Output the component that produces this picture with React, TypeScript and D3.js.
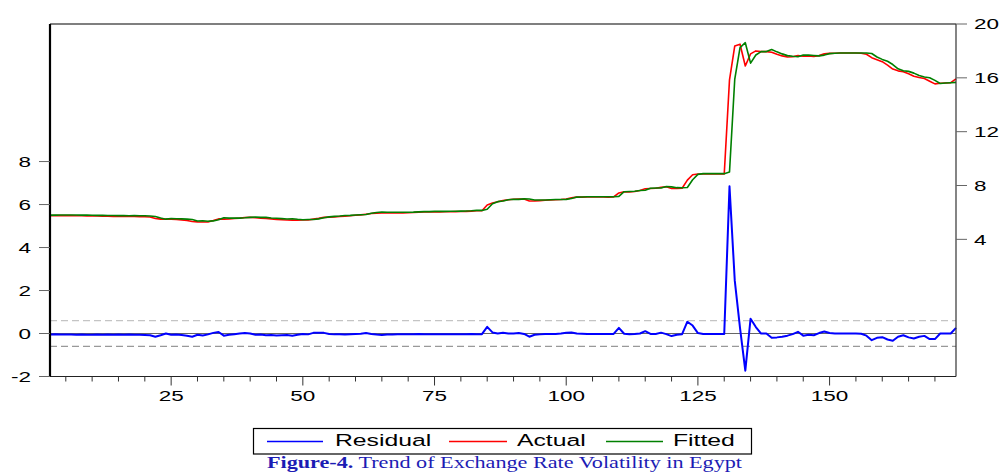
import * as d3 from 'd3'

// EViews style residual / actual / fitted plot, observations 2..174
const firstObs = 2

const actual = [
  5.75, 5.76, 5.76, 5.76, 5.76, 5.75, 5.75, 5.74, 5.73, 5.73,
  5.72, 5.72, 5.71, 5.71, 5.70, 5.70, 5.70, 5.69, 5.68, 5.66,
  5.55, 5.50, 5.50, 5.49, 5.48, 5.45, 5.40, 5.33, 5.30, 5.29,
  5.30, 5.40, 5.52, 5.50, 5.52, 5.55, 5.58, 5.62, 5.63, 5.60,
  5.58, 5.55, 5.52, 5.48, 5.46, 5.44, 5.43, 5.43, 5.44, 5.44,
  5.50, 5.56, 5.63, 5.65, 5.67, 5.70, 5.72, 5.75, 5.79, 5.82,
  5.87, 5.92, 5.95, 5.96, 5.96, 5.96, 5.97, 5.97, 5.98, 5.99,
  6.02, 6.03, 6.03, 6.04, 6.04, 6.05, 6.05, 6.06, 6.07, 6.08,
  6.10, 6.12, 6.12, 6.55, 6.70, 6.80, 6.88, 6.94, 6.98, 6.99,
  6.99, 6.85, 6.86, 6.88, 6.90, 6.92, 6.94, 6.96, 7.00, 7.08,
  7.14, 7.14, 7.15, 7.15, 7.15, 7.15, 7.14, 7.15, 7.45, 7.53,
  7.53, 7.55, 7.63, 7.76, 7.78, 7.80, 7.86, 7.90, 7.78, 7.78,
  7.80, 8.40, 8.80, 8.85, 8.86, 8.86, 8.86, 8.86, 8.86, 15.85,
  18.37, 18.50, 16.88, 17.78, 18.00, 17.95, 17.95, 17.90, 17.75, 17.63,
  17.55, 17.57, 17.65, 17.60, 17.63, 17.58, 17.65, 17.78, 17.82, 17.83,
  17.85, 17.85, 17.85, 17.85, 17.83, 17.75, 17.50, 17.35, 17.20, 16.95,
  16.65, 16.52, 16.45, 16.30, 16.12, 16.02, 15.95, 15.75, 15.55, 15.60,
  15.62, 15.64, 15.92,
]

const fitted = [
  5.80, 5.80, 5.81, 5.81, 5.81, 5.81, 5.80, 5.80, 5.79, 5.78,
  5.78, 5.77, 5.77, 5.76, 5.76, 5.75, 5.76, 5.75, 5.75, 5.74,
  5.70, 5.58, 5.50, 5.55, 5.53, 5.52, 5.50, 5.48, 5.36, 5.38,
  5.34, 5.37, 5.45, 5.60, 5.58, 5.58, 5.58, 5.60, 5.63, 5.66,
  5.63, 5.63, 5.59, 5.57, 5.54, 5.51, 5.53, 5.49, 5.46, 5.48,
  5.47, 5.52, 5.60, 5.67, 5.71, 5.73, 5.77, 5.78, 5.81, 5.83,
  5.85, 5.94, 6.00, 6.03, 6.01, 6.01, 6.01, 6.01, 6.01, 6.02,
  6.04, 6.06, 6.06, 6.08, 6.08, 6.08, 6.09, 6.09, 6.10, 6.11,
  6.12, 6.15, 6.15, 6.24, 6.65, 6.80, 6.85, 6.94, 6.98, 6.97,
  7.01, 7.00, 6.92, 6.92, 6.92, 6.94, 6.96, 6.96, 6.97, 7.03,
  7.14, 7.15, 7.17, 7.17, 7.17, 7.17, 7.16, 7.17, 7.19, 7.54,
  7.56, 7.57, 7.63, 7.65, 7.80, 7.82, 7.82, 7.93, 7.90, 7.84,
  7.83, 7.85, 8.43, 8.83, 8.88, 8.88, 8.88, 8.88, 8.88, 9.00,
  15.91, 18.25, 18.61, 17.09, 17.70, 17.95, 17.95, 18.10, 17.93, 17.78,
  17.65, 17.60, 17.57, 17.70, 17.69, 17.66, 17.63, 17.69, 17.80, 17.83,
  17.85, 17.85, 17.85, 17.85, 17.84, 17.85, 17.81, 17.55, 17.37, 17.23,
  16.99, 16.67, 16.53, 16.48, 16.35, 16.17, 16.06, 16.01, 15.81, 15.58,
  15.62, 15.64, 15.66,
]

const residual = [
  -0.05, -0.04, -0.05, -0.05, -0.05, -0.06, -0.05, -0.06, -0.06, -0.05,
  -0.06, -0.05, -0.06, -0.05, -0.06, -0.05, -0.06, -0.06, -0.07, -0.08,
  -0.15, -0.08, 0.00, -0.06, -0.05, -0.07, -0.10, -0.15, -0.06, -0.09,
  -0.04, 0.03, 0.07, -0.10, -0.06, -0.03, 0.00, 0.02, 0.00, -0.06,
  -0.05, -0.08, -0.07, -0.09, -0.08, -0.07, -0.10, -0.06, -0.02, -0.04,
  0.03, 0.04, 0.03, -0.02, -0.04, -0.03, -0.05, -0.03, -0.02, -0.01,
  0.02, -0.02, -0.05, -0.07, -0.05, -0.05, -0.04, -0.04, -0.03, -0.03,
  -0.02, -0.03, -0.03, -0.04, -0.04, -0.03, -0.04, -0.03, -0.03, -0.03,
  -0.02, -0.03, -0.03, 0.31, 0.05, 0.00, 0.03, 0.00, 0.00, 0.02,
  -0.02, -0.15, -0.06, -0.04, -0.02, -0.02, -0.02, 0.00, 0.03, 0.05,
  0.00, -0.01, -0.02, -0.02, -0.02, -0.02, -0.02, -0.02, 0.26, -0.01,
  -0.03, -0.02, 0.00, 0.11, -0.02, -0.02, 0.04, -0.03, -0.12, -0.06,
  -0.03, 0.55, 0.37, 0.02, -0.02, -0.02, -0.02, -0.02, -0.02, 6.85,
  2.46, 0.25, -1.73, 0.69, 0.30, 0.00, 0.00, -0.20, -0.18, -0.15,
  -0.10, -0.03, 0.08, -0.10, -0.06, -0.08, 0.02, 0.09, 0.02, 0.00,
  0.00, 0.00, 0.00, 0.00, -0.01, -0.10, -0.31, -0.20, -0.17, -0.28,
  -0.34, -0.15, -0.08, -0.18, -0.23, -0.15, -0.11, -0.26, -0.26, 0.00,
  0.00, 0.00, 0.26,
]

const residualBand = [0.6, -0.6]
const leftTicks = [-2, 0, 2, 4, 6, 8]
const rightTicks = [4, 8, 12, 16, 20]
const xMajorTicks = [25, 50, 75, 100, 125, 150]
const xMinorTicks = d3.range(5, 175, 5)
const legendItems = [
  { label: 'Residual', color: '#0000ff', x1: 267, x2: 323, tx: 335 },
  { label: 'Actual', color: '#ff0000', x1: 449, x2: 507, tx: 517 },
  { label: 'Fitted', color: '#008000', x1: 606, x2: 663, tx: 673 },
]

const W = 1003
const H = 474
const plot = { left: 50, right: 956, top: 24, bottom: 376.5 }
const font = '"Liberation Sans", Arial, sans-serif'
const stretch = 1.5

const x = d3.scaleLinear().domain([firstObs, firstObs + actual.length - 1]).range([plot.left, plot.right])
const yLeft = d3.scaleLinear().domain([-2, 14.4]).range([plot.bottom, plot.top])
const yRight = d3.scaleLinear().domain([-6.19, 20]).range([plot.bottom, plot.top])

const lineFor = (y: d3.ScaleLinear<number, number>) =>
  d3.line<number>().x((_, i) => x(firstObs + i)).y(d => y(d))

const WideText = ({ x, y, anchor, size, children }: any) => (
  <g transform={`translate(${x},${y}) scale(${stretch},1)`}>
    <text textAnchor={anchor} fontSize={size} fontFamily={font} fill="#000" dy="0.36em">{children}</text>
  </g>
)

export default function App() {
  const resLine = lineFor(yLeft)(residual)
  const actLine = lineFor(yRight)(actual)
  const fitLine = lineFor(yRight)(fitted)

  return (
    <svg width={W} height={H} style={{ position: 'absolute', left: 0, top: 0, background: '#fff' }}>
      {/* residual band and zero line */}
      <line x1={plot.left} x2={plot.right} y1={yLeft(residualBand[0])} y2={yLeft(residualBand[0])}
        stroke="#c4c4c4" strokeWidth={1.2} strokeDasharray="7,4" />
      <line x1={plot.left} x2={plot.right} y1={yLeft(residualBand[1])} y2={yLeft(residualBand[1])}
        stroke="#999" strokeWidth={1.2} strokeDasharray="7,4" />
      <line x1={plot.left} x2={plot.right} y1={yLeft(0)} y2={yLeft(0)} stroke="#666" strokeWidth={1.2} />

      <path d={resLine || ''} fill="none" stroke="#0000ff" strokeWidth={2} strokeLinejoin="round" />
      <path d={actLine || ''} fill="none" stroke="#ff0000" strokeWidth={1.6} strokeLinejoin="round" />
      <path d={fitLine || ''} fill="none" stroke="#008000" strokeWidth={1.6} strokeLinejoin="round" />

      {/* frame */}
      <line x1={plot.left} x2={plot.right} y1={plot.top} y2={plot.top} stroke="#000" strokeWidth={1.2} />
      <line x1={plot.left} x2={plot.right} y1={plot.bottom} y2={plot.bottom} stroke="#222" strokeWidth={1.2} />
      <line x1={plot.right} x2={plot.right} y1={plot.top} y2={plot.bottom} stroke="#333" strokeWidth={1.2} />
      <line x1={plot.left} x2={plot.left} y1={plot.top} y2={plot.bottom} stroke="#000" strokeWidth={2.2} />

      {/* left axis */}
      {leftTicks.map(t => (
        <g key={'l' + t}>
          <line x1={plot.left - 11} x2={plot.left} y1={yLeft(t)} y2={yLeft(t)} stroke="#666" />
          <WideText x={31} y={yLeft(t)} anchor="end" size={15}>{t}</WideText>
        </g>
      ))}

      {/* right axis */}
      {rightTicks.map(t => (
        <g key={'r' + t}>
          <line x1={plot.right} x2={plot.right + 11} y1={yRight(t)} y2={yRight(t)} stroke="#666" />
          <WideText x={974} y={yRight(t)} anchor="start" size={15}>{t}</WideText>
        </g>
      ))}

      {/* bottom axis */}
      {xMinorTicks.map(t => (
        <line key={'m' + t} x1={x(t)} x2={x(t)} y1={plot.bottom} y2={plot.bottom + (xMajorTicks.includes(t) ? 9 : 5)}
          stroke="#333" />
      ))}
      {xMajorTicks.map(t => (
        <WideText key={'x' + t} x={x(t)} y={396} anchor="middle" size={15}>{t}</WideText>
      ))}

      {/* legend */}
      <rect x={253.5} y={428.5} width={498} height={25.5} fill="#fff" stroke="#000" strokeWidth={1.2} />
      {legendItems.map(d => (
        <g key={d.label}>
          <line x1={d.x1} x2={d.x2} y1={441.5} y2={441.5} stroke={d.color} strokeWidth={1.3} />
          <WideText x={d.tx} y={440.5} anchor="start" size={16.5}>{d.label}</WideText>
        </g>
      ))}

      {/* caption */}
      <text x={267} y={468} fontFamily='"Liberation Serif", "Times New Roman", serif' fontSize={16}
        fill="#1c1cb4" textLength={475} lengthAdjust="spacingAndGlyphs">
        <tspan fontWeight="bold">Figure-4.</tspan>
        <tspan> Trend of Exchange Rate Volatility in Egypt</tspan>
      </text>
    </svg>
  )
}
